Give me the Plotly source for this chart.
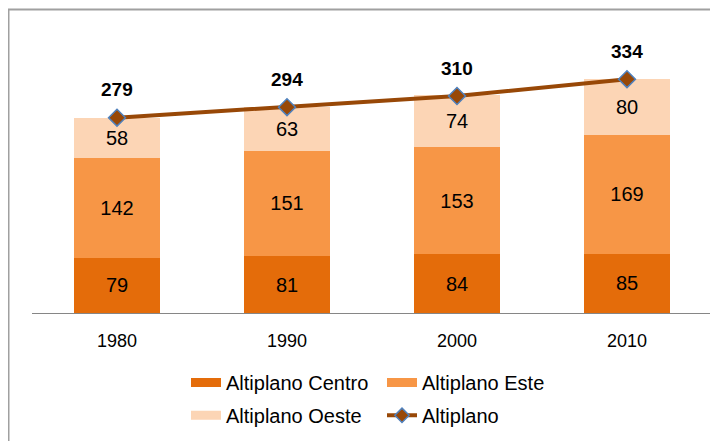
import plotly.graph_objects as go

years = ["1980", "1990", "2000", "2010"]
centro = [79, 81, 84, 85]
este = [142, 151, 153, 169]
oeste = [58, 63, 74, 80]
total = [279, 294, 310, 334]

c_centro = "#E46C0A"
c_este = "#F79646"
c_oeste = "#FCD5B5"
c_line = "#984807"

FONT = "Liberation Sans, Arial, sans-serif"
lab = dict(family=FONT, size=20, color="#000000")

W, H = 710, 433          # page body has an 8px margin
L, R, T, B = 24, 6, 25, 126
PW, PH = W - L - R, H - T - B

fig = go.Figure()
for name, vals, col in [("Altiplano Centro", centro, c_centro),
                        ("Altiplano Este", este, c_este),
                        ("Altiplano Oeste", oeste, c_oeste)]:
    fig.add_trace(go.Bar(x=years, y=vals, name=name, marker=dict(color=col, line=dict(width=0)),
                         text=[str(v) for v in vals], textposition="inside",
                         insidetextanchor="middle", textfont=lab, constraintext="none",
                         showlegend=False, hoverinfo="skip"))

fig.add_trace(go.Scatter(x=years, y=total, mode="lines+markers", name="Altiplano",
                         line=dict(color=c_line, width=4),
                         marker=dict(symbol="diamond", size=13, color=c_line,
                                     line=dict(color="#4F81BD", width=1.5)),
                         showlegend=False))

# total labels: on a category axis annotations take the category index
for i, v in enumerate(total):
    fig.add_annotation(x=i, y=v, text=f"<b>{v}</b>", showarrow=False, yshift=28,
                       font=dict(family=FONT, size=19, color="#000000"))

# legend entries
def leg(name, col, legend, mode="lines", marker=None, width=9):
    fig.add_trace(go.Scatter(x=[None], y=[None], mode=mode, name=name,
                             line=dict(color=col, width=width),
                             marker=marker, legend=legend, showlegend=True))

leg("Altiplano Centro", c_centro, "legend")
leg("Altiplano Este", c_este, "legend")
leg("Altiplano Oeste", c_oeste, "legend2")
leg("Altiplano", c_line, "legend2", mode="lines+markers",
    marker=dict(symbol="diamond", size=11, color=c_line, line=dict(color="#4F81BD", width=1.5)),
    width=4)

legfont = dict(family=FONT, size=20, color="#000000")
lx = (178 - L) / PW
fig.update_layout(
    width=W, height=H,
    margin=dict(l=L, r=R, t=T, b=B),
    paper_bgcolor="white", plot_bgcolor="white",
    barmode="stack", bargap=0.49,
    xaxis=dict(type="category", categoryorder="array", categoryarray=years,
               range=[-0.5, len(years) - 0.5],
               showline=True, linecolor="#868686", linewidth=1, ticks="",
               ticklabelstandoff=11,
               tickfont=dict(family=FONT, size=18, color="#000000"), fixedrange=True),
    yaxis=dict(range=[0, 400], visible=False, showgrid=False),
    legend=dict(orientation="h", x=lx, xanchor="left", y=(307 - 377) / PH, yanchor="middle",
                entrywidth=151, font=legfont, bgcolor="rgba(0,0,0,0)", traceorder="normal"),
    legend2=dict(orientation="h", x=lx, xanchor="left", y=(307 - 410) / PH, yanchor="middle",
                 entrywidth=151, font=legfont, bgcolor="rgba(0,0,0,0)", traceorder="normal"),
    shapes=[dict(type="rect", xref="paper", yref="paper",
                 x0=(0.5 - L) / PW, x1=(714 - L) / PW,
                 y0=(307 - 438) / PH, y1=(307 - 1.3) / PH,
                 line=dict(color="#A0A0A0", width=2), fillcolor="rgba(0,0,0,0)", layer="below")],
)

fig.write_html("out.html")
